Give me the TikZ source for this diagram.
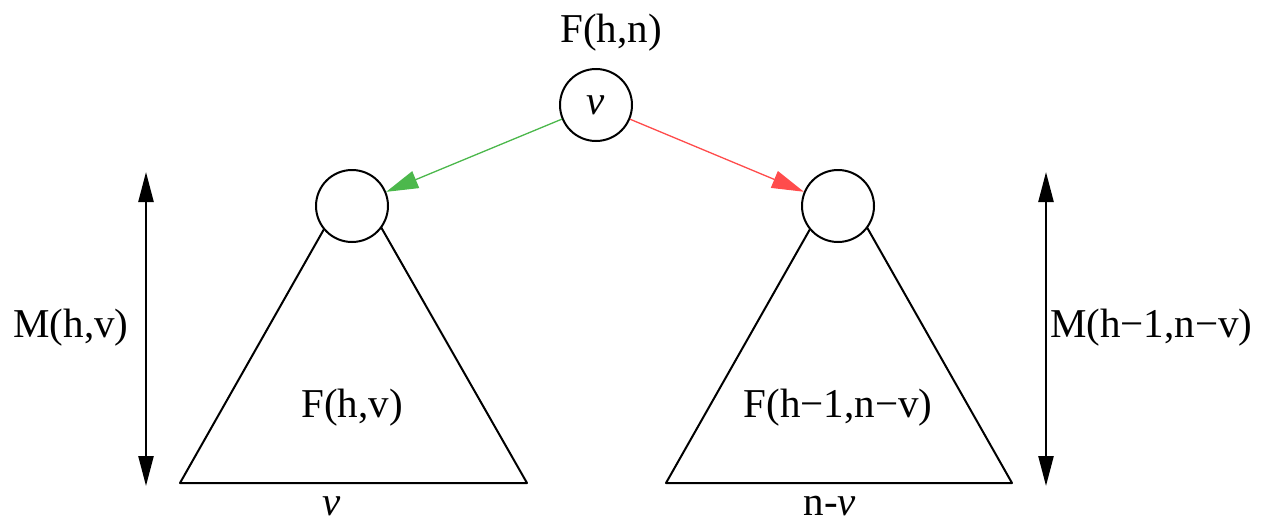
\documentclass[tikz,border=0pt]{standalone}
\usepackage{fontspec}
\setmainfont{Liberation Serif}
\usetikzlibrary{arrows.meta}
\begin{document}
\begin{tikzpicture}[x=1pt,y=-1pt,
  lbl/.style={font=\fontsize{41}{46}\selectfont, inner sep=0pt},
  nd/.style={circle, draw=black, line width=2pt, fill=white, minimum size=72pt, inner sep=0pt},
  tri/.style={draw=black, line width=2pt, line join=round},
  dim/.style={line width=2.4pt, {Triangle[length=30pt,width=15pt]}-{Triangle[length=30pt,width=15pt]}},
  edge/.style={line width=1.3pt, -{Triangle[length=32pt,width=18pt]}}
]
\useasboundingbox (0,0) rectangle (1263,530);
% triangles
\coordinate (lapex) at (353,178);
\coordinate (lbl) at (180,483);
\coordinate (lbr) at (527,483);
\coordinate (rapex) at (839,178);
\coordinate (rbl) at (666,483);
\coordinate (rbr) at (1012,483);
\draw[tri] (lapex) -- (lbl) -- (lbr) -- cycle;
\draw[tri] (rapex) -- (rbl) -- (rbr) -- cycle;
% nodes
\node[nd] (top) at (596,105) {\fontsize{41}{46}\selectfont\textit{v}};
\node[nd] (L) at (352,206) {};
\node[nd] (R) at (838,206) {};
% edges
\draw[edge, draw=green!60!black!70, fill=green!50!black] (top) -- (L);
\draw[edge, draw=red!70, fill=red] (top) -- (R);
% labels
\node[lbl] (fhn) at (611,33) {F(h,n)};
\node[lbl] (fhv) at (352,408) {F(h,v)};
\node[lbl] (fh1) at (838,408) {F(h−1,n−v)};
\node[lbl] (bv) at (332,506) {\textit{v}};
\node[lbl] (bnv) at (830,506) {n-\textit{v}};
\node[lbl] (mhv) at (71,328) {M(h,v)};
\node[lbl, anchor=west] (mh1) at (1050,328) {M(h−1,n−v)};
% dimension arrows
\coordinate (la1) at (146,172);
\coordinate (la2) at (146,486);
\coordinate (ra1) at (1046,172);
\coordinate (ra2) at (1046,486);
\draw[dim] (la1) -- (la2);
\draw[dim] (ra1) -- (ra2);
\end{tikzpicture}
\end{document}
